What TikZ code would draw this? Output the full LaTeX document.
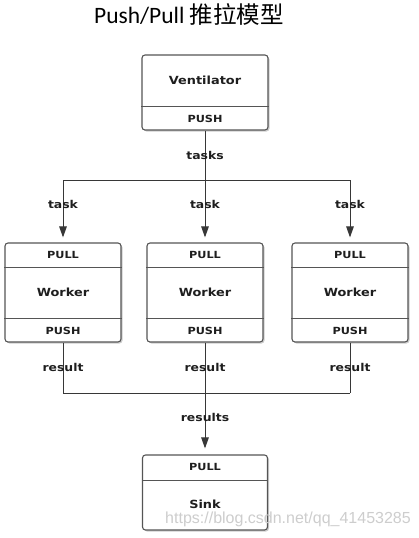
\documentclass[tikz,border=0pt]{standalone}
\usepackage{fontspec}
\setmainfont{DejaVu Sans}[FakeStretch=1.15]
\newfontfamily\titlefont{Carlito}
\newfontfamily\cjkfont{Noto Sans CJK SC}
\newfontfamily\markfont{Liberation Sans}
\usepackage{tikz}
\usetikzlibrary{shadows,arrows.meta,positioning}
\definecolor{boxGray}{RGB}{85,85,85}
\definecolor{lineGray}{RGB}{55,55,55}
\definecolor{textDark}{RGB}{30,30,30}
\definecolor{markGray}{RGB}{205,205,205}

\tikzset{
  block/.style={draw=boxGray, line width=1.1pt, rounded corners=3pt, fill=white,
    drop shadow={shadow xshift=1.5pt, shadow yshift=-1.5pt, opacity=0.4}, inner sep=0pt},
  divider/.style={draw=boxGray, line width=1pt},
  boxname/.style={font=\bfseries\fontsize{11.2}{13}\selectfont, text=textDark},
  portname/.style={font=\bfseries\fontsize{9.8}{11}\selectfont, text=textDark},
  lbl/.style={font=\bfseries\fontsize{10.8}{13}\selectfont, text=textDark},
  link/.style={draw=lineGray, line width=1pt},
  flow/.style={link, -{Triangle[length=11pt,width=7.5pt]}}
}

\begin{document}
\begin{tikzpicture}[x=1pt, y=-1pt]
    \useasboundingbox (0,0) rectangle (418,538);
    % title
    \node[font=\fontsize{23.5}{27}\selectfont, text=black] (title) at (189,14) {\titlefont Push/Pull \cjkfont 推拉模型};

    % Ventilator
    \node[block, minimum width=126pt, minimum height=75pt] (vent) at (205,92.5) {};
    \draw[divider] ([yshift=24pt]vent.south west) -- ([yshift=24pt]vent.south east);
    \node[boxname] (vent-name) at ([yshift=12pt]vent.center) {Ventilator};
    \node[portname] (vent-push) at ([yshift=12pt]vent.south) {PUSH};

    % Workers
    \foreach \i/\x in {1/63, 2/205, 3/350} {
        \node[block, minimum width=116pt, minimum height=99pt] (wk\i) at (\x,292.5) {};
        \draw[divider] ([yshift=-25pt]wk\i.north west) -- ([yshift=-25pt]wk\i.north east);
        \draw[divider] ([yshift=24pt]wk\i.south west) -- ([yshift=24pt]wk\i.south east);
        \node[portname] (wk\i-pull) at ([yshift=-12.5pt]wk\i.north) {PULL};
        \node[boxname] (wk\i-name) at (wk\i.center) {Worker};
        \node[portname] (wk\i-push) at ([yshift=12pt]wk\i.south) {PUSH};
    }

    % Sink
    \node[block, minimum width=125pt, minimum height=75pt] (sink) at (205,492.5) {};
    \draw[divider] ([yshift=-26pt]sink.north west) -- ([yshift=-26pt]sink.north east);
    \node[portname] (sink-pull) at ([yshift=-13pt]sink.north) {PULL};
    \node[boxname] (sink-name) at ([yshift=-50pt]sink.north) {Sink};

    % fan out
    \coordinate (tj) at (205,180);
    \draw[link] (vent.south) -- (tj);
    \draw[link] (wk1.north |- tj) -- (wk3.north |- tj);
    \node[lbl] (lbl-tasks) at (205,155) {tasks};
    \foreach \i in {1,2,3} {
        \draw[flow] (wk\i.north |- tj) -- ([yshift=5pt]wk\i.north);
        \node[lbl] (lbl-task\i) at ([yshift=38pt]wk\i.north) {task};
    }

    % fan in
    \coordinate (rj) at (205,393);
    \foreach \i in {1,2,3} {
        \draw[link] (wk\i.south) -- (wk\i.south |- rj);
        \node[lbl] (lbl-result\i) at ([yshift=-25pt]wk\i.south) {result};
    }
    \draw[link] (wk1.south |- rj) -- (wk3.south |- rj);
    \draw[flow] (rj) -- ([yshift=6pt]sink.north);
    \node[lbl] (lbl-results) at (205,417) {results};

    % watermark
    \node[font=\markfont\fontsize{16}{18}\selectfont, text=markGray] (mark) at (288,519) {https://blog.csdn.net/qq\_41453285};
\end{tikzpicture}
\end{document}
